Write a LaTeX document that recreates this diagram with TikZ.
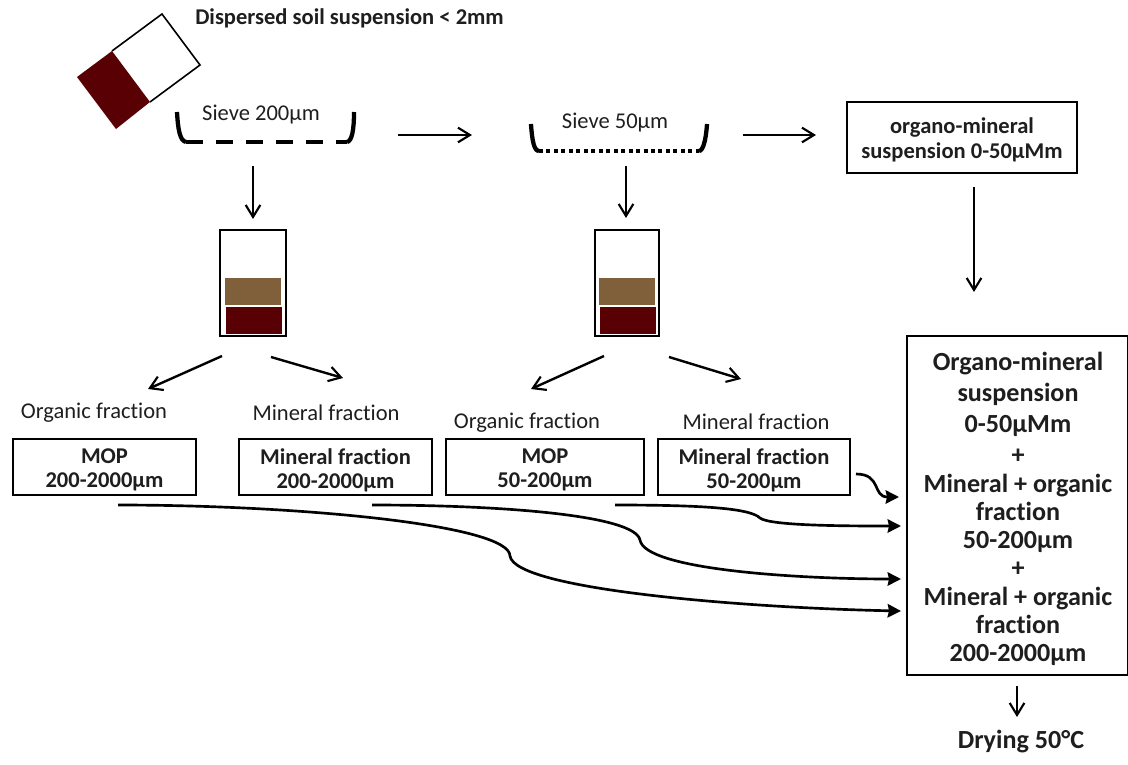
\documentclass[tikz,border=0pt]{standalone}
\usepackage{fontspec}
\setmainfont{Carlito}[Ligatures=NoCommon]
\usetikzlibrary{arrows.meta}
\definecolor{soil}{RGB}{88,0,4}
\definecolor{org}{RGB}{127,96,58}
\definecolor{txt}{RGB}{30,30,30}
\tikzset{
  box/.style={draw=black,line width=1.5pt,inner sep=0pt},
  lbl/.style={text=txt,font=\fontsize{16.9}{20}\selectfont,inner sep=0pt,align=center},
  blbl/.style={text=txt,font=\fontsize{16.9}{18}\selectfont\bfseries,inner sep=0pt,align=center},
  biglbl/.style={text=txt,font=\fontsize{19.6}{21}\selectfont\bfseries,inner sep=0pt,align=center},
  arr/.style={draw=black,line width=1.8pt,-{Straight Barb[length=9pt,width=11pt,line width=1.6pt]}},
  flow/.style={draw=black,line width=2pt,-{Stealth[length=10pt,width=10pt,inset=1pt]}},
  tubebox/.style={draw=black,line width=1.4pt},
}
\begin{document}
\begin{tikzpicture}[x=0.75pt,y=-0.75pt]
\useasboundingbox (0,0) rectangle (1128,764);
% tilted container
\fill[soil] (77,77) -- (112,51) -- (150,102) -- (116,129) -- cycle;
\draw[line width=1.2pt,line join=miter] (112,51) -- (162,14) -- (200,65) -- (150,102);
\node[blbl,anchor=west] (title) at (195,18) {Dispersed soil suspension < 2mm};
% sieve 1
\node[lbl] (s1) at (261,115) {Sieve 200µm};
\draw[line width=3.2pt,line cap=butt] (177,112) .. controls (178,130) and (180,141) .. (186,142);
\draw[line width=3.2pt,line cap=butt] (354,112) .. controls (354,130) and (352,141) .. (347,142);
\draw[line width=3pt,dash pattern=on 12.5pt off 10pt] (186,142) -- (347,142);
% sieve 2
\node[lbl] (s2) at (615,123) {Sieve 50µm};
\draw[line width=3.2pt] (531,124) .. controls (532,140) and (534,151) .. (539,151);
\draw[line width=3.2pt] (707,124) .. controls (706,140) and (703,151) .. (699,151);
\draw[line width=3pt,dash pattern=on 3pt off 2.6pt] (539,151) -- (699,151);
% organo-mineral suspension
\node[box,minimum width=172.5pt,minimum height=53pt] (om) at (962,137.5) {};
\node[blbl] (omt) at (962,140) {organo-mineral\\[1pt]suspension 0-50µMm};
% tubes
\fill[org] (225,278) rectangle (281,305);
\fill[soil] (226,307) rectangle (282,334);
\node[tubebox,minimum width=49.5pt,minimum height=79.5pt,inner sep=0pt] (t1) at (253,283) {};
\fill[org] (599,278) rectangle (655,305);
\fill[soil] (600,307) rectangle (656,334);
\node[tubebox,minimum width=48pt,minimum height=79.5pt,inner sep=0pt] (t2) at (627,283) {};
% fraction labels
\node[lbl] (o1) at (94,413) {Organic fraction};
\node[lbl] (m1) at (326,413) {Mineral fraction};
\node[lbl] (o2) at (527,423) {Organic fraction};
\node[lbl] (m2) at (756,422) {Mineral fraction};
% boxes
\node[box,minimum width=137pt,minimum height=42.5pt] (b1) at (104.5,467) {};
\node[box,minimum width=144.5pt,minimum height=42.5pt] (b2) at (335.5,467) {};
\node[box,minimum width=148pt,minimum height=42.5pt] (b3) at (545,467) {};
\node[box,minimum width=144pt,minimum height=42.5pt] (b4) at (754,467) {};
\node[blbl] (b1t) at (104.5,470) {MOP\\200-2000µm};
\node[blbl] (b2t) at (335.5,470) {Mineral fraction\\200-2000µm};
\node[blbl] (b3t) at (545,470) {MOP\\50-200µm};
\node[blbl] (b4t) at (754,470) {Mineral fraction\\50-200µm};
% result box
\node[box,minimum width=165.5pt,minimum height=254pt] (res) at (1017.5,505.5) {};
\node[biglbl] (rest) at (1018,509) {Organo-mineral\\[2.2pt]suspension\\[2.2pt]0-50µMm\\[2.2pt]+\\[0.8pt]Mineral + organic\\fraction\\50-200µm\\+\\[0.8pt]Mineral + organic\\fraction\\200-2000µm};
\node[biglbl] (dry) at (1021,742) {Drying 50°C};
% free ends
\coordinate (a1s) at (398,135); \coordinate (a1e) at (472,135);
\coordinate (a2s) at (743,135); \coordinate (a2e) at (816,135);
\coordinate (d1s) at (253,166); \coordinate (d1e) at (253,219);
\coordinate (d2s) at (626,166); \coordinate (d2e) at (626,218);
\coordinate (d3s) at (974,187); \coordinate (d3e) at (974,292);
\coordinate (f1s) at (222,356); \coordinate (f1e) at (148,389);
\coordinate (f2s) at (271,357); \coordinate (f2e) at (343,378);
\coordinate (f3s) at (604,356); \coordinate (f3e) at (531,389);
\coordinate (f4s) at (669,357); \coordinate (f4e) at (741,379);
\coordinate (d4s) at (1017,686); \coordinate (d4e) at (1017,717);
\draw[arr] (a1s) -- (a1e);
\draw[arr] (a2s) -- (a2e);
\draw[arr] (d1s) -- (d1e);
\draw[arr] (d2s) -- (d2e);
\draw[arr] (d3s) -- (d3e);
\draw[arr] (f1s) -- (f1e);
\draw[arr] (f2s) -- (f2e);
\draw[arr] (f3s) -- (f3e);
\draw[arr] (f4s) -- (f4e);
\draw[arr] (d4s) -- (d4e);
% curved flows
\coordinate (c0s) at (856,474); \coordinate (c0e) at (899,497);
\coordinate (c1s) at (615,505); \coordinate (c1m) at (760,518); \coordinate (c1e) at (901,526);
\coordinate (c2s) at (372,505); \coordinate (c2m) at (640,540); \coordinate (c2e) at (901,579);
\coordinate (c3s) at (118,505); \coordinate (c3m) at (510,556); \coordinate (c3e) at (901,611);
\draw[flow] (c0s) .. controls (882,474) and (872,497) .. (c0e);
\draw[flow] (c1s) .. controls (700,505) and (750,508) .. (c1m) .. controls (770,526) and (850,526) .. (c1e);
\draw[flow] (c2s) .. controls (500,505) and (635,515) .. (c2m) .. controls (645,570) and (800,579) .. (c2e);
\draw[flow] (c3s) .. controls (300,505) and (510,525) .. (c3m) .. controls (515,590) and (750,608) .. (c3e);
\end{tikzpicture}
\end{document}
